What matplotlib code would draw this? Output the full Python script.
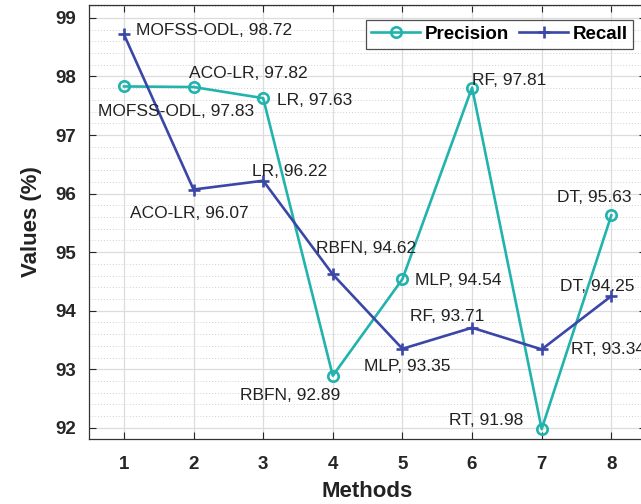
import matplotlib
matplotlib.use("Agg")
import matplotlib.pyplot as plt
from matplotlib.ticker import MultipleLocator

methods_x = [1, 2, 3, 4, 5, 6, 7, 8]
names = ["MOFSS-ODL", "ACO-LR", "LR", "RBFN", "MLP", "RF", "RT", "DT"]
precision = [97.83, 97.82, 97.63, 92.89, 94.54, 97.81, 91.98, 95.63]
recall = [98.72, 96.07, 96.22, 94.62, 93.35, 93.71, 93.34, 94.25]

# label offsets in points (dx, dy)
prec_off = [(-19, -18), (-3, 10), (10, -2), (-67, -14),
            (9, -1), (0, 5), (-67, 6), (-39, 13)]
rec_off = [(9, 3), (-46, -17), (-8, 7), (-12, 18.5),
           (-28, -13), (-45, 8), (21, 0), (-37, 7)]

teal = "#22B3AD"
blue = "#3A47A6"
txt = "#222222"

plt.rcParams["font.family"] = ["Liberation Sans", "DejaVu Sans"]

fig = plt.figure(figsize=(6.41, 5.04), dpi=100)
ax = fig.add_axes([0.139, 0.129, 0.869, 0.861])

ax.plot(methods_x, precision, color=teal, lw=1.9, marker="o", ms=7.5,
        mfc="none", mew=1.9, label="Precision", zorder=3)
ax.plot(methods_x, recall, color=blue, lw=1.9, marker="+", ms=9,
        mew=1.9, label="Recall", zorder=3)

for x, y, n, (dx, dy) in zip(methods_x, precision, names, prec_off):
    ax.annotate(f"{n}, {y:.2f}", (x, y), xytext=(dx, dy), textcoords="offset points",
                ha="left", va="center", fontsize=12.5, color=txt, zorder=4)
for x, y, n, (dx, dy) in zip(methods_x, recall, names, rec_off):
    ax.annotate(f"{n}, {y:.2f}", (x, y), xytext=(dx, dy), textcoords="offset points",
                ha="left", va="center", fontsize=12.5, color=txt, zorder=4)

ax.set_xlim(0.5, 8.5)
ax.set_ylim(91.81, 99.22)
ax.set_xticks(methods_x)
ax.yaxis.set_major_locator(MultipleLocator(1))
ax.yaxis.set_minor_locator(MultipleLocator(0.2))
ax.grid(True, which="major", color="#DCDCDC", lw=0.9)
ax.grid(True, which="minor", axis="y", color="#D0D0D0", lw=0.7, ls=(0, (1, 2)))
ax.set_axisbelow(True)

ax.tick_params(axis="both", which="major", direction="in", length=5, width=0.8,
               labelsize=13.5, colors="#262626", top=True, right=True, pad=9)
ax.tick_params(axis="x", which="major", pad=12)
ax.tick_params(axis="both", which="minor", length=0)
for lab in ax.get_xticklabels() + ax.get_yticklabels():
    lab.set_fontweight("bold")
for s in ax.spines.values():
    s.set_color("#333333")
    s.set_linewidth(0.9)

ax.set_xlabel("Methods", fontsize=16, fontweight="bold", color=txt, labelpad=6)
ax.set_ylabel("Values (%)", fontsize=16, fontweight="bold", color=txt, labelpad=10)

leg = ax.legend(loc="upper right", ncol=2, frameon=True, fancybox=False,
                edgecolor="#222222", handlelength=2.6, columnspacing=0.55,
                borderpad=0.3, handletextpad=0.25, borderaxespad=0,
                bbox_to_anchor=(0.977, 0.965),
                prop={"weight": "bold", "size": 13.5})
leg.get_frame().set_linewidth(0.9)

fig.savefig("out.png", dpi=100)
